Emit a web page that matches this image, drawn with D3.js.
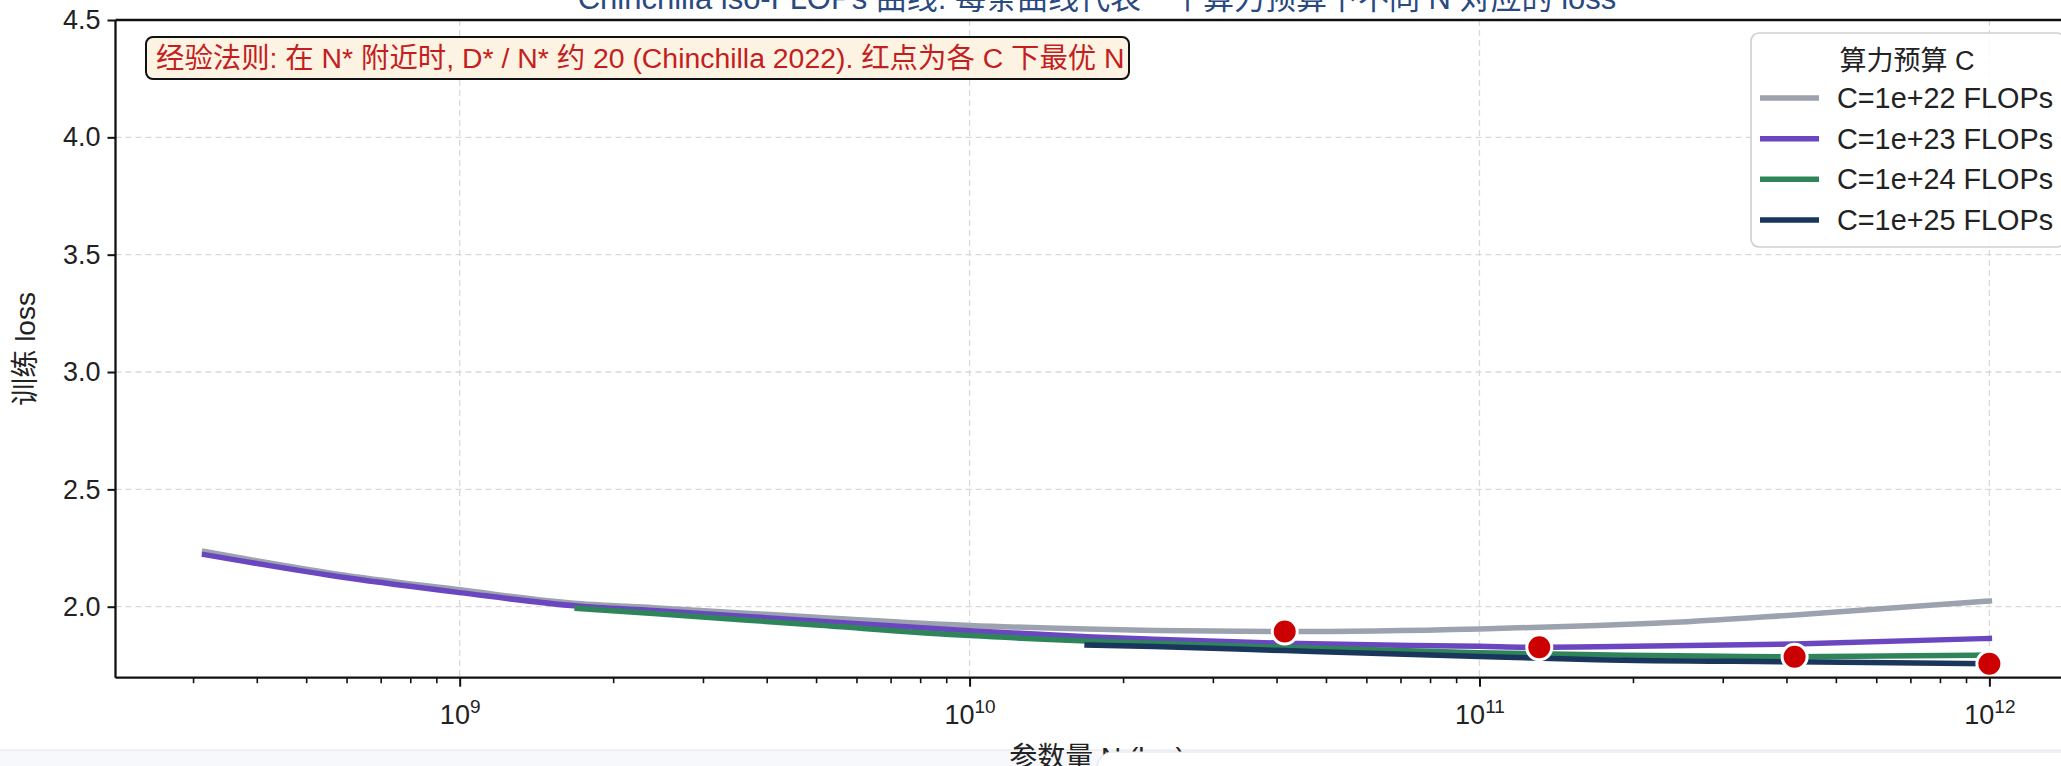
<!DOCTYPE html>
<html>
<head>
<meta charset="utf-8">
<script src="https://cdn.jsdelivr.net/npm/d3@7"></script>
<style>
  html, body { margin: 0; padding: 0; background: #ffffff; overflow: hidden; }
  svg { display: block; font-family: "Liberation Sans", "Noto Sans CJK SC", sans-serif; }
</style>
</head>
<body>
<svg id="chart" width="2061" height="766"></svg>
<script>
// Compute budgets (FLOPs) and their colours
const budgets = ["1e+22", "1e+23", "1e+24", "1e+25"];
const colors = ["#9ca3af", "#6b46c1", "#2f855a", "#1a365d"];

// iso-FLOPs curves: parameter count N and training loss
const nC22 = [3.16e8, 6e8, 1e9, 1.7e9, 2.4e9, 5e9, 1e10, 1.7e10, 2.3e10, 4.15e10, 1e11, 1.7e11, 2.2e11, 4.15e11, 1e12];
const lossC22 = [2.235, 2.133, 2.072, 2.014, 1.996, 1.955, 1.920, 1.905, 1.899, 1.894, 1.905, 1.920, 1.929, 1.965, 2.024];

const nC23 = [3.16e8, 6e8, 1e9, 1.7e9, 2.4e9, 5e9, 1e10, 1.7e10, 2.3e10, 4.15e10, 1e11, 1.31e11, 1.7e11, 4.15e11, 1e12];
const lossC23 = [2.222, 2.123, 2.060, 2.003, 1.984, 1.939, 1.898, 1.872, 1.861, 1.844, 1.831, 1.827, 1.829, 1.841, 1.865];

const nC24 = [1.7e9, 2.4e9, 5e9, 1e10, 1.7e10, 2.3e10, 4.15e10, 1e11, 1.7e11, 4.15e11, 1e12];
const lossC24 = [1.993, 1.971, 1.922, 1.877, 1.854, 1.844, 1.827, 1.804, 1.795, 1.787, 1.794];

const nC25 = [1.7e10, 2.3e10, 4.15e10, 1e11, 1.7e11, 4.15e11, 1e12];
const lossC25 = [1.837, 1.830, 1.813, 1.788, 1.774, 1.765, 1.757];

// Axis ticks and labels
const xMajorTicks = [1e9, 1e10, 1e11, 1e12];
const xMajorExponents = ["9", "10", "11", "12"];
const yTicks = [2.0, 2.5, 3.0, 3.5, 4.0, 4.5];

const titleText = "Chinchilla iso-FLOPs 曲线: 每条曲线代表一个算力预算下不同 N 对应的 loss";
const noteText = "经验法则: 在 N* 附近时, D* / N* 约 20 (Chinchilla 2022). 红点为各 C 下最优 N";
const xLabel = "参数量 N (log)";
const yLabel = "训练 loss";
const legendTitle = "算力预算 C";

const seriesN = [nC22, nC23, nC24, nC25];
const seriesLoss = [lossC22, lossC23, lossC24, lossC25];
const series = budgets.map((b, i) => ({
  label: `C=${b} FLOPs`,
  color: colors[i],
  points: seriesN[i].map((n, j) => ({ n, loss: seriesLoss[i][j] }))
}));

// Layout
const plot = { left: 115.5, right: 2078.6, top: 20, bottom: 677.7 };

const x = d3.scaleLog()
  .domain([Math.pow(10, 8.325), Math.pow(10, 12.175)])
  .range([plot.left, plot.right]);
const y = d3.scaleLinear()
  .domain([1.6975, 4.5])
  .range([plot.bottom, plot.top]);

const svg = d3.select("#chart");

// Grid
const grid = svg.append("g").attr("class", "grid");
grid.selectAll("line.gx").data(xMajorTicks).join("line")
  .attr("x1", d => x(d)).attr("x2", d => x(d))
  .attr("y1", plot.top).attr("y2", plot.bottom)
  .attr("stroke", "#d9d9d9").attr("stroke-width", 1.3).attr("stroke-dasharray", "6,4");
grid.selectAll("line.gy").data(yTicks.filter(d => d < 4.5)).join("line")
  .attr("x1", plot.left).attr("x2", plot.right)
  .attr("y1", d => y(d)).attr("y2", d => y(d))
  .attr("stroke", "#d9d9d9").attr("stroke-width", 1.3).attr("stroke-dasharray", "6,4");

// Curves
const line = d3.line()
  .x(d => x(d.n))
  .y(d => y(d.loss))
  .curve(d3.curveMonotoneX);

svg.append("g").selectAll("path").data(series).join("path")
  .attr("d", d => line(d.points))
  .attr("fill", "none")
  .attr("stroke", d => d.color)
  .attr("stroke-width", 5.5)
  .attr("stroke-linecap", "square");

// Loss-optimal N for each budget
const optima = series.map(s => d3.least(s.points, p => p.loss));
svg.append("g").selectAll("circle").data(optima).join("circle")
  .attr("cx", d => x(d.n))
  .attr("cy", d => y(d.loss))
  .attr("r", 12.5)
  .attr("fill", "#cc0000")
  .attr("stroke", "#ffffff")
  .attr("stroke-width", 3);

// Axes
const yAxis = svg.append("g")
  .attr("transform", `translate(${plot.left},0)`)
  .call(d3.axisLeft(y).tickValues(yTicks).tickSize(8).tickPadding(7).tickFormat(d3.format(".1f")));
yAxis.select(".domain").remove();
yAxis.selectAll(".tick line").attr("stroke", "#111").attr("stroke-width", 2);
yAxis.selectAll(".tick text").attr("font-size", 27).attr("fill", "#222")
  .attr("font-family", "Liberation Sans, sans-serif");

// minor ticks on the log axis
const xMinorTicks = [];
for (let e = 8; e <= 12; e++) {
  for (let k = 2; k <= 9; k++) {
    const v = k * Math.pow(10, e);
    if (v > x.domain()[0] && v < x.domain()[1]) xMinorTicks.push(v);
  }
}
const xMinor = svg.append("g")
  .attr("transform", `translate(0,${plot.bottom})`)
  .call(d3.axisBottom(x).tickValues(xMinorTicks).tickSize(5.5).tickFormat(""));
xMinor.select(".domain").remove();
xMinor.selectAll(".tick line").attr("stroke", "#111").attr("stroke-width", 1.6);

const xAxis = svg.append("g")
  .attr("transform", `translate(0,${plot.bottom})`)
  .call(d3.axisBottom(x).tickValues(xMajorTicks).tickSize(9).tickFormat(""));
xAxis.select(".domain").remove();
xAxis.selectAll(".tick line").attr("stroke", "#111").attr("stroke-width", 2);
xAxis.selectAll(".tick").append("text")
  .attr("y", 46)
  .attr("text-anchor", "middle")
  .attr("fill", "#222")
  .attr("font-size", 27)
  .each(function(d, i) {
    const t = d3.select(this);
    t.append("tspan").text("10");
    t.append("tspan").attr("dy", -11).attr("font-size", 19).text(xMajorExponents[i]);
  });

// Spines
const spine = (x1, y1, x2, y2) => svg.append("line")
  .attr("x1", x1).attr("y1", y1).attr("x2", x2).attr("y2", y2)
  .attr("stroke", "#111").attr("stroke-width", 2.3);
spine(plot.left, plot.top, plot.left, plot.bottom);
spine(plot.left, plot.bottom, plot.right, plot.bottom);
spine(plot.left, plot.top, plot.right, plot.top);
spine(plot.right, plot.top, plot.right, plot.bottom);

// Title
svg.append("text")
  .attr("x", (plot.left + plot.right) / 2)
  .attr("y", 9)
  .attr("text-anchor", "middle")
  .attr("font-size", 31)
  .attr("fill", "#2a4a7f")
  .text(titleText);

// Y label
svg.append("text")
  .attr("transform", `translate(35,${(plot.top + plot.bottom) / 2}) rotate(-90)`)
  .attr("text-anchor", "middle")
  .attr("font-size", 28)
  .attr("fill", "#222")
  .text(yLabel);

// Annotation box
const note = svg.append("g");
note.append("rect")
  .attr("x", 146).attr("y", 37).attr("width", 983).attr("height", 42)
  .attr("rx", 7)
  .attr("fill", "#fdf3e3")
  .attr("stroke", "#111").attr("stroke-width", 2);
note.append("text")
  .attr("x", 156).attr("y", 68)
  .attr("font-size", 28.4)
  .attr("fill", "#c41e1e")
  .text(noteText);

// Legend
const legend = svg.append("g");
legend.append("rect")
  .attr("x", 1751).attr("y", 33).attr("width", 314).attr("height", 214)
  .attr("rx", 8)
  .attr("fill", "rgba(255,255,255,0.85)")
  .attr("stroke", "#cfcfcf").attr("stroke-width", 1.6);
legend.append("text")
  .attr("x", 1907).attr("y", 70)
  .attr("text-anchor", "middle")
  .attr("font-size", 27)
  .attr("fill", "#222")
  .text(legendTitle);
const rowY = d3.scalePoint().domain(d3.range(series.length)).range([98, 220]);
const rows = legend.selectAll("g.row").data(series).join("g")
  .attr("transform", (d, i) => `translate(0,${rowY(i)})`);
rows.append("line")
  .attr("x1", 1760).attr("x2", 1819)
  .attr("stroke", d => d.color).attr("stroke-width", 5.5);
rows.append("text")
  .attr("x", 1837).attr("y", 10)
  .attr("font-size", 28.8)
  .attr("fill", "#222")
  .text(d => d.label);

// Bottom bar overlapping the figure edge
svg.append("rect")
  .attr("x", -2).attr("y", 750).attr("width", 2070).attr("height", 20)
  .attr("fill", "#f6f8fb").attr("stroke", "#e1e6ee").attr("stroke-width", 1);

// X label
svg.append("text")
  .attr("x", (plot.left + plot.right) / 2)
  .attr("y", 767)
  .attr("text-anchor", "middle")
  .attr("font-size", 28)
  .attr("fill", "#222")
  .text(xLabel);

svg.append("rect")
  .attr("x", 1097).attr("y", 752).attr("width", 1000).attr("height", 40)
  .attr("rx", 16)
  .attr("fill", "#ffffff").attr("stroke", "#e1e6ee").attr("stroke-width", 1.2);
</script>
</body>
</html>
